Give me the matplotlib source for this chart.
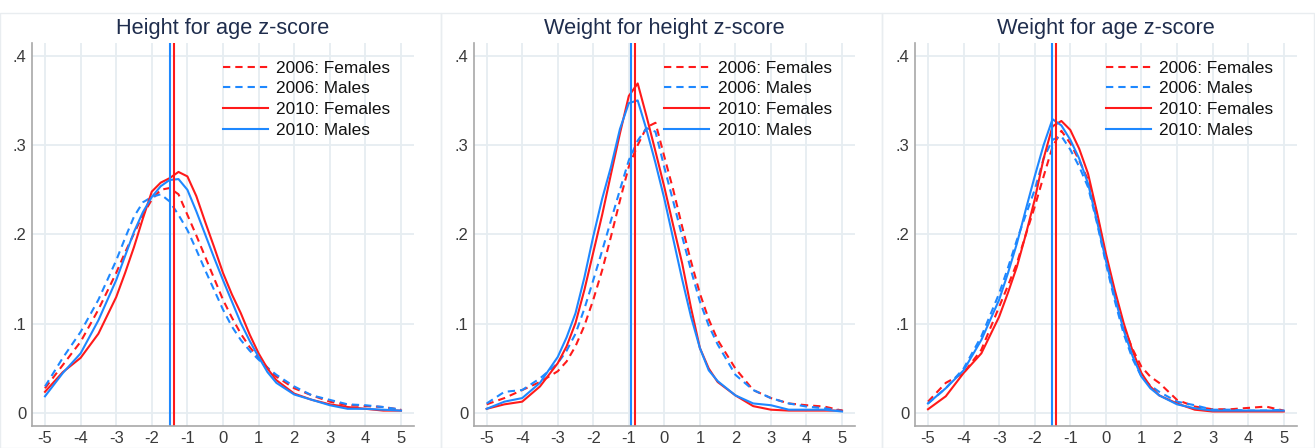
import matplotlib
matplotlib.use("Agg")
import matplotlib.pyplot as plt
from matplotlib.patches import Rectangle

plt.rcParams["font.family"] = ["Liberation Sans", "DejaVu Sans"]
plt.rcParams["axes.unicode_minus"] = False

# z-score grid shared by every density curve
z = [-5, -4.5, -4, -3.5, -3, -2.75, -2.5, -2.25, -2, -1.75, -1.5, -1.25, -1, -0.75,
     -0.5, -0.25, 0, 0.25, 0.5, 0.75, 1, 1.25, 1.5, 2, 2.5, 3, 3.5, 4, 4.5, 5]

panel_titles = ["Height for age z-score", "Weight for height z-score", "Weight for age z-score"]
series_labels = ["2006: Females", "2006: Males", "2010: Females", "2010: Males"]

# Height for age
haz_f06 = [0.028, 0.054, 0.080, 0.116, 0.157, 0.180, 0.201, 0.222, 0.239, 0.250, 0.252, 0.245, 0.222, 0.199,
           0.175, 0.151, 0.127, 0.107, 0.089, 0.074, 0.062, 0.051, 0.041, 0.028, 0.020, 0.013, 0.009, 0.008, 0.007, 0.004]
haz_m06 = [0.030, 0.062, 0.091, 0.127, 0.171, 0.196, 0.220, 0.236, 0.242, 0.245, 0.237, 0.222, 0.205, 0.183,
           0.160, 0.138, 0.116, 0.097, 0.082, 0.070, 0.060, 0.051, 0.043, 0.030, 0.020, 0.015, 0.010, 0.009, 0.007, 0.004]
haz_f10 = [0.024, 0.046, 0.062, 0.089, 0.130, 0.157, 0.186, 0.218, 0.248, 0.258, 0.263, 0.270, 0.265, 0.243,
           0.214, 0.186, 0.157, 0.133, 0.112, 0.088, 0.067, 0.050, 0.037, 0.022, 0.015, 0.010, 0.007, 0.005, 0.003, 0.003]
haz_m10 = [0.019, 0.045, 0.067, 0.104, 0.149, 0.176, 0.203, 0.225, 0.242, 0.254, 0.261, 0.262, 0.250, 0.226,
           0.200, 0.174, 0.149, 0.125, 0.101, 0.081, 0.063, 0.046, 0.034, 0.021, 0.015, 0.009, 0.005, 0.005, 0.004, 0.003]

# Weight for height
whz_f06 = [0.010, 0.017, 0.026, 0.035, 0.047, 0.058, 0.075, 0.098, 0.127, 0.160, 0.198, 0.238, 0.276, 0.300,
           0.320, 0.325, 0.287, 0.250, 0.209, 0.170, 0.134, 0.105, 0.082, 0.050, 0.026, 0.017, 0.011, 0.009, 0.0075, 0.003]
whz_m06 = [0.011, 0.024, 0.026, 0.039, 0.056, 0.070, 0.089, 0.117, 0.149, 0.182, 0.216, 0.250, 0.283, 0.305,
           0.319, 0.315, 0.275, 0.237, 0.198, 0.160, 0.125, 0.098, 0.077, 0.043, 0.026, 0.017, 0.011, 0.0075, 0.0056, 0.003]
whz_f10 = [0.005, 0.010, 0.013, 0.030, 0.056, 0.075, 0.101, 0.138, 0.180, 0.222, 0.268, 0.313, 0.355, 0.369,
           0.332, 0.293, 0.253, 0.210, 0.168, 0.118, 0.073, 0.050, 0.035, 0.020, 0.008, 0.004, 0.003, 0.003, 0.003, 0.003]
whz_m10 = [0.005, 0.013, 0.017, 0.034, 0.063, 0.085, 0.112, 0.152, 0.198, 0.240, 0.276, 0.318, 0.347, 0.350,
           0.317, 0.280, 0.240, 0.195, 0.150, 0.108, 0.073, 0.048, 0.036, 0.020, 0.011, 0.009, 0.004, 0.004, 0.004, 0.002]

# Weight for age
waz_f06 = [0.013, 0.034, 0.045, 0.071, 0.119, 0.143, 0.168, 0.200, 0.231, 0.265, 0.298, 0.316, 0.302, 0.283,
           0.261, 0.222, 0.175, 0.134, 0.097, 0.072, 0.052, 0.041, 0.034, 0.015, 0.0075, 0.0045, 0.0045, 0.006, 0.0075, 0.003]
waz_m06 = [0.011, 0.028, 0.050, 0.086, 0.134, 0.163, 0.194, 0.222, 0.250, 0.285, 0.306, 0.310, 0.295, 0.276,
           0.253, 0.213, 0.168, 0.126, 0.089, 0.061, 0.041, 0.031, 0.024, 0.013, 0.009, 0.004, 0.004, 0.003, 0.003, 0.004]
waz_f10 = [0.0045, 0.019, 0.045, 0.067, 0.108, 0.135, 0.164, 0.200, 0.239, 0.285, 0.321, 0.327, 0.317, 0.296,
           0.268, 0.225, 0.179, 0.138, 0.101, 0.070, 0.045, 0.030, 0.020, 0.011, 0.004, 0.002, 0.002, 0.002, 0.002, 0.002]
waz_m10 = [0.011, 0.028, 0.048, 0.082, 0.127, 0.157, 0.190, 0.228, 0.265, 0.300, 0.329, 0.322, 0.306, 0.285,
           0.257, 0.215, 0.171, 0.130, 0.093, 0.064, 0.041, 0.028, 0.020, 0.010, 0.0056, 0.003, 0.003, 0.003, 0.003, 0.003]

# 2010 means (males, females) per indicator
mean_m10 = [-1.49, -0.93, -1.52]
mean_f10 = [-1.38, -0.83, -1.40]

panels = [
    [haz_f06, haz_m06, haz_f10, haz_m10],
    [whz_f06, whz_m06, whz_f10, whz_m10],
    [waz_f06, waz_m06, waz_f10, waz_m10],
]

RED = "#ff1a1a"
BLUE = "#1e88ff"
DASH = (0, (3.5, 2.4))
styles = [(RED, DASH), (BLUE, DASH), (RED, "-"), (BLUE, "-")]

W, H = 1315, 448
fig = plt.figure(figsize=(W / 100, H / 100), dpi=100)

ax_px = [(32, 414), (473.7, 855), (915, 1296.7)]
top_px, bot_px = 43.3, 425.7
frames = [(0, 441), (441, 882), (882, 1314)]

for (fx0, fx1) in frames:
    fig.patches.append(Rectangle((fx0 / W, 0), (fx1 - fx0) / W, 1 - 13 / H,
                                 transform=fig.transFigure, fill=False,
                                 edgecolor="#e9edf0", lw=1.0))

for i, (x0, x1) in enumerate(ax_px):
    ax = fig.add_axes([x0 / W, 1 - bot_px / H, (x1 - x0) / W, (bot_px - top_px) / H])
    ax.set_xlim(-5.365, 5.365)
    ax.set_ylim(-0.0139, 0.4139)
    ax.set_xticks(range(-5, 6))
    ax.set_yticks([0, 0.1, 0.2, 0.3, 0.4])
    ax.set_yticklabels(["0", ".1", ".2", ".3", ".4"])
    ax.grid(True, color="#e6edf1", lw=1.3)
    ax.set_axisbelow(True)
    for s in ["top", "right"]:
        ax.spines[s].set_visible(False)
    for s in ["left", "bottom"]:
        ax.spines[s].set_color("#a8a8a8")
        ax.spines[s].set_linewidth(1.2)
    ax.tick_params(length=0, labelsize=12, labelcolor="#3a3a3a", pad=4)

    for vals, (col, ls), lab in zip(panels[i], styles, series_labels):
        ax.plot(z, vals, color=col, ls=ls, lw=1.5, label=lab)
    ax.axvline(mean_m10[i], color=BLUE, lw=1.5)
    ax.axvline(mean_f10[i], color=RED, lw=1.5)

    ax.set_title(panel_titles[i], fontsize=15.7, color="#1f2d4d", pad=7)
    ax.legend(loc="upper left", bbox_to_anchor=(0.5, 0.955), frameon=False,
              fontsize=12.4, handlelength=2.6, handletextpad=0.5,
              labelspacing=0.33, borderpad=0, borderaxespad=0,
              labelcolor="#111111")

fig.savefig("out.png", dpi=100, facecolor="white")
